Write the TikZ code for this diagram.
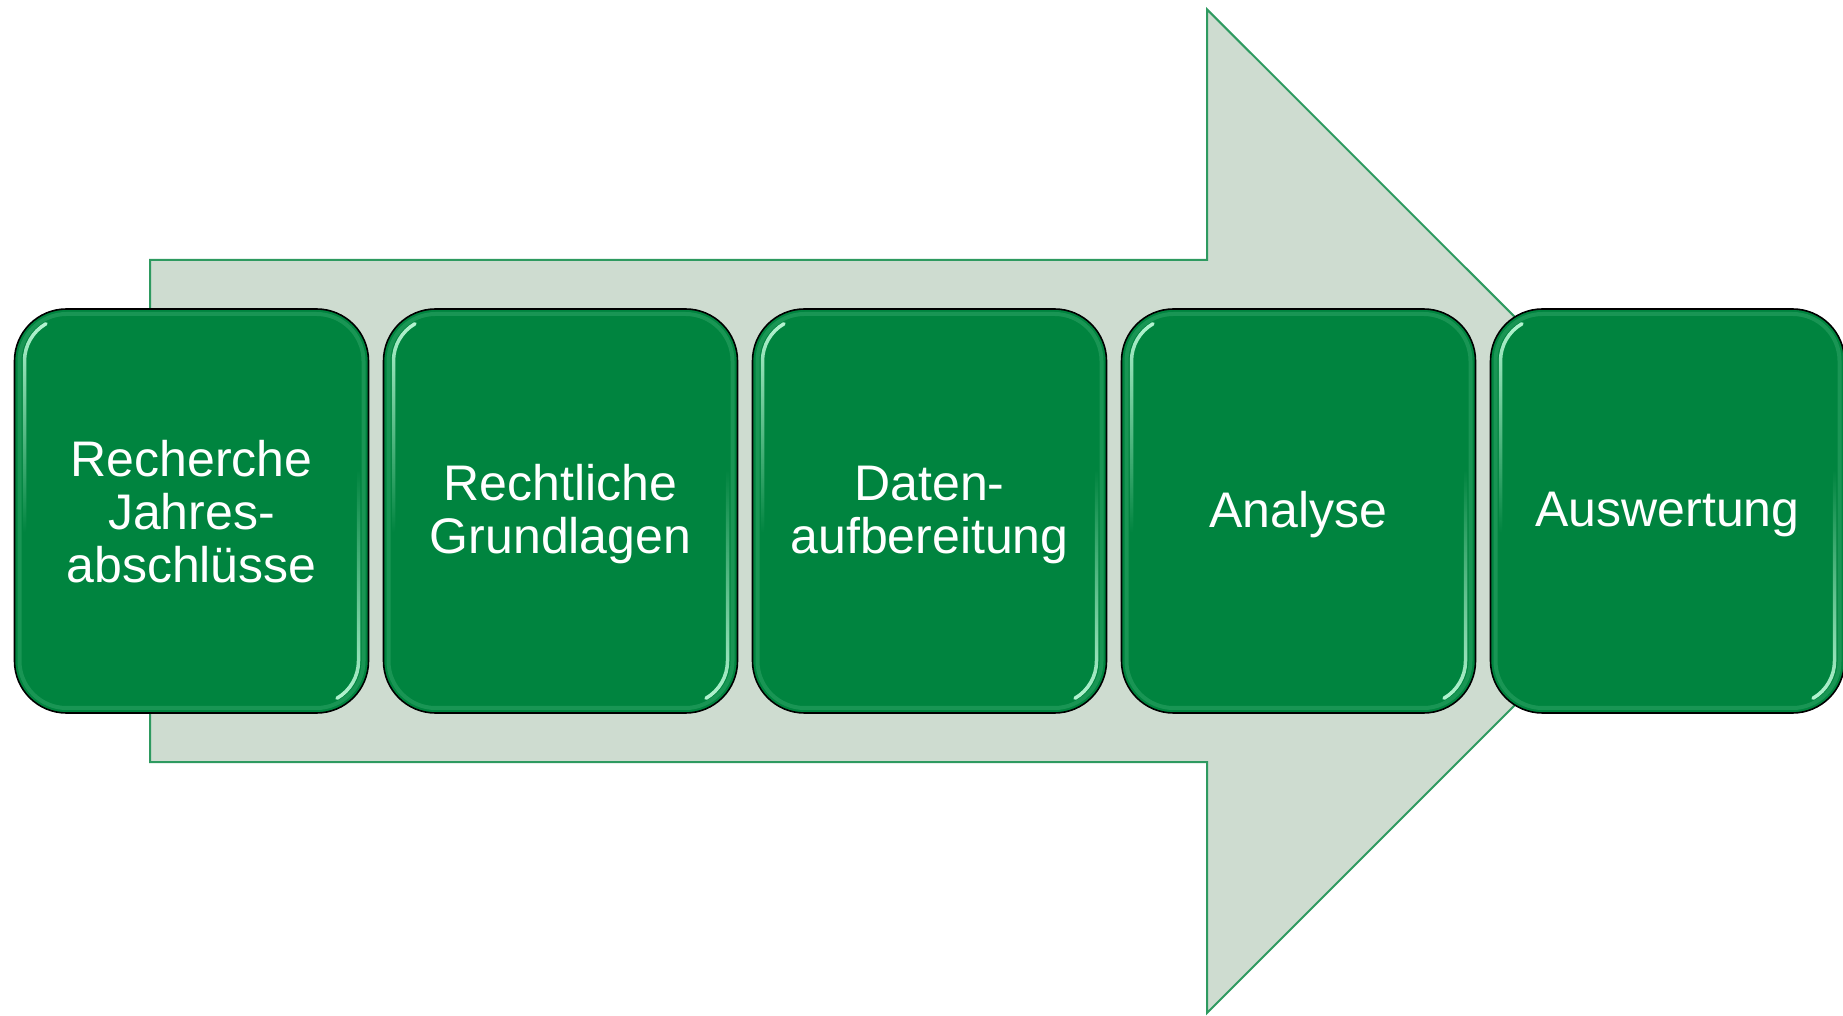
\documentclass[tikz,border=0pt]{standalone}
\usepackage{fontspec}
\setmainfont{Liberation Sans}
\usetikzlibrary{fadings}
\definecolor{boxgreen}{HTML}{00843F}
\definecolor{arrowfill}{HTML}{CEDCD0}
\definecolor{arrowline}{HTML}{2E9A60}
\definecolor{bandgreen}{HTML}{2FA366}
\definecolor{hilite}{HTML}{B5F5D2}
\tikzset{
  stepbox/.style={draw=black, line width=1.6pt, fill=boxgreen, rounded corners=52pt,
    minimum width=354pt, minimum height=404pt, inner sep=0pt},
  steptext/.style={text=white, align=center, font=\fontsize{50}{53}\selectfont, inner sep=0pt},
  bigarrow/.style={fill=arrowfill, draw=arrowline, line width=2pt, line join=miter},
  band/.style={draw=bandgreen, line width=4pt, opacity=0.55, rounded corners=47pt},
  hl/.style={draw=hilite, line width=3.5pt, line cap=round}
}
\newcommand{\bevelbox}[1]{%
  \begin{scope}[shift={(#1.center)}]
    \draw[band] (-172,-197) rectangle (172,197);
    \draw[hl, path fading=south] (-167,-20) -- (-167,150) arc[start angle=180, end angle=120, radius=43];
    \draw[hl, path fading=north] (167,40) -- (167,-150) arc[start angle=0, end angle=-60, radius=43];
  \end{scope}}
\begin{document}
\begin{tikzpicture}[x=1pt, y=1pt]
\useasboundingbox (0,0) rectangle (1843,1015);
% big arrow
\coordinate (s1) at (150,755);
\coordinate (s2) at (1207,755);
\coordinate (h1) at (1207,1005.6);
\coordinate (tip) at (1709,504);
\coordinate (h2) at (1207,2);
\coordinate (s3) at (1207,253);
\coordinate (s4) at (150,253);
\draw[bigarrow] (s1) -- (s2) -- (h1) -- (tip) -- (h2) -- (s3) -- (s4) -- cycle;
% step boxes
\node[stepbox] (b1) at (191.5,504) {};
\node[stepbox] (b2) at (560.5,504) {};
\node[stepbox] (b3) at (929.5,504) {};
\node[stepbox] (b4) at (1298.5,504) {};
\node[stepbox] (b5) at (1667.5,504) {};
\bevelbox{b1}\bevelbox{b2}\bevelbox{b3}\bevelbox{b4}\bevelbox{b5}
% labels
\node[steptext] (t1) at ([yshift=-1pt]b1.center) {Recherche\\Jahres-\\abschlüsse};
\node[steptext] (t2) at ([yshift=-3.5pt]b2.center) {Rechtliche\\Grundlagen};
\node[steptext] (t3) at ([yshift=-3.5pt]b3.center) {Daten-\\aufbereitung};
\node[steptext] (t4) at ([yshift=-3.5pt]b4.center) {Analyse};
\node[steptext] (t5) at ([yshift=-3.5pt]b5.center) {Auswertung};
\end{tikzpicture}
\end{document}
